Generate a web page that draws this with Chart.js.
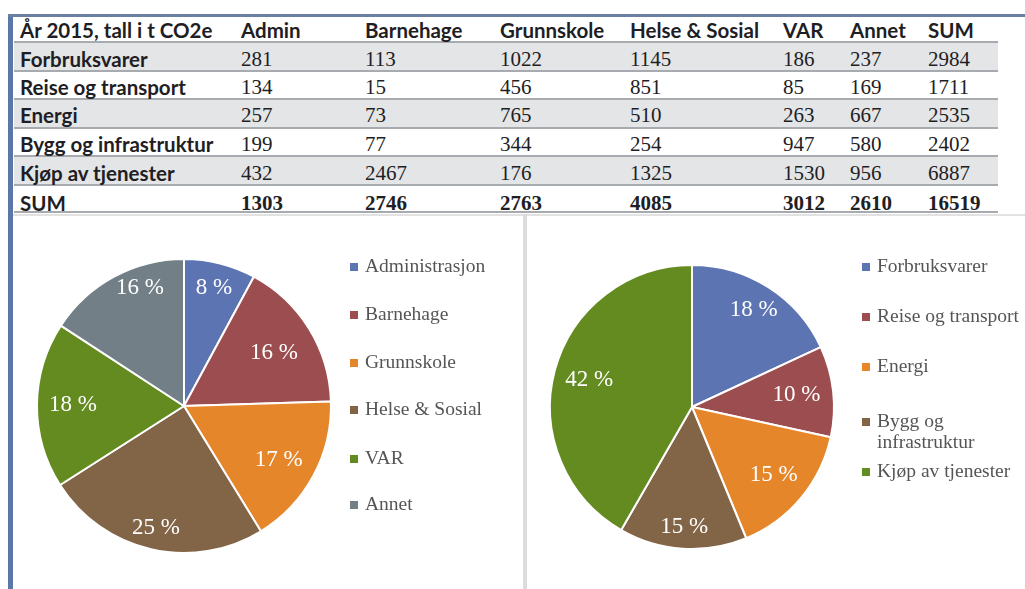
<!DOCTYPE html>
<html><head><meta charset="utf-8">
<script src="https://cdn.jsdelivr.net/npm/chart.js@4.4.0/dist/chart.umd.min.js"></script>
<style>
html,body{margin:0;padding:0;background:#fff;width:1025px;height:589px;overflow:hidden;position:relative;}
#leftBorder{position:absolute;left:8px;top:14px;width:5px;height:575px;background:#5b77a6;}
#topBorder{position:absolute;left:8px;top:14px;width:1017px;height:3px;background:#6b7fa0;}
#midLine{position:absolute;left:523px;top:214px;width:4px;height:375px;background:#dcdcdc;}
#hLine{position:absolute;left:13px;top:214px;width:1012px;height:2px;background:#e2e2e2;}
#tbl{position:absolute;left:14px;top:17px;width:984px;}
.r{position:absolute;left:0;width:984px;border-bottom:2px solid #a7abaf;box-sizing:border-box;}
.r.gray{background:#e4e5e7;}
.c{position:absolute;white-space:nowrap;color:#1e1e24;}
.lab{font-family:Lato,"Open Sans",sans-serif;font-weight:bold;font-size:20.5px;}
.num{font-family:"Liberation Serif",serif;font-size:21px;}
.sum .num{font-weight:bold;}
canvas{position:absolute;}
#c1{left:14px;top:216px;}
#c2{left:528px;top:216px;}
</style></head>
<body>
<div id="leftBorder"></div><div id="topBorder"></div>
<div id="hLine"></div><div id="midLine"></div>
<div id="tbl"></div>
<canvas id="c1" width="509" height="373"></canvas>
<canvas id="c2" width="497" height="373"></canvas>
<script>
// ---- Data ----
const tableTitle = "År 2015, tall i t CO2e";
const columns = ["Admin", "Barnehage", "Grunnskole", "Helse & Sosial", "VAR", "Annet", "SUM"];
const rowLabels = ["Forbruksvarer", "Reise og transport", "Energi", "Bygg og infrastruktur", "Kjøp av tjenester", "SUM"];
const forbruksvarer = [281, 113, 1022, 1145, 186, 237, 2984];
const reiseTransport = [134, 15, 456, 851, 85, 169, 1711];
const energi = [257, 73, 765, 510, 263, 667, 2535];
const byggInfra = [199, 77, 344, 254, 947, 580, 2402];
const kjopTjenester = [432, 2467, 176, 1325, 1530, 956, 6887];
const sumRow = [1303, 2746, 2763, 4085, 3012, 2610, 16519];

const sectorLabels = ["Administrasjon", "Barnehage", "Grunnskole", "Helse & Sosial", "VAR", "Annet"];
const sectorValues = [1303, 2746, 2763, 4085, 3012, 2610];
const sectorPctLabels = ["8 %", "16 %", "17 %", "25 %", "18 %", "16 %"];

const categoryLabels = ["Forbruksvarer", "Reise og transport", "Energi", ["Bygg og", "infrastruktur"], "Kjøp av tjenester"];
const categoryValues = [2984, 1711, 2535, 2402, 6887];
const categoryPctLabels = ["18 %", "10 %", "15 %", "15 %", "42 %"];

// ---- Table (layout) ----
const colX = [6, 227, 351, 486, 616, 769, 836, 914];
const rowTops = [0, 26, 55, 83, 112, 140, 169];
const rowBottoms = [26, 55, 83, 112, 140, 169, 196];
const textShift = [0, 1, 1, 0, 1, 1, 3];
const tbl = document.getElementById('tbl');
let h = '';
function rowHtml(i, cls, cells) {
  const top = rowTops[i], hgt = rowBottoms[i] - rowTops[i];
  let s = '<div class="r ' + cls + '" style="top:' + top + 'px;height:' + hgt + 'px">';
  cells.forEach((c, j) => {
    s += '<div class="c ' + c.k + '" style="top:' + textShift[i] + 'px;left:' + colX[j] + 'px;line-height:' + (hgt + 1) + 'px">' + c.t + '</div>';
  });
  return s + '</div>';
}
h += rowHtml(0, '', [{ t: tableTitle, k: 'lab' }].concat(columns.map(c => ({ t: c, k: 'lab' }))));
const rows = [forbruksvarer, reiseTransport, energi, byggInfra, kjopTjenester, sumRow];
rows.forEach((r, i) => {
  const cls = (i % 2 === 0 ? 'gray' : '') + (i === 5 ? ' sum' : '');
  h += rowHtml(i + 1, cls, [{ t: rowLabels[i], k: 'lab' }].concat(r.map(v => ({ t: String(v), k: 'num' }))));
});
tbl.innerHTML = h;

// ---- Charts ----
const palette1 = ['#5d74b3', '#9c4d4f', '#e5862a', '#826447', '#638b20', '#737f86'];
const palette2 = ['#5d74b3', '#9c4d4f', '#e5862a', '#826447', '#638b20'];

const pctPlugin = {
  id: 'pctLabels',
  afterDatasetsDraw(chart, args, opts) {
    const ctx = chart.ctx;
    const meta = chart.getDatasetMeta(0);
    ctx.save();
    ctx.fillStyle = '#ffffff';
    ctx.font = '23px "Liberation Serif", serif';
    ctx.textAlign = 'center';
    ctx.textBaseline = 'middle';
    meta.data.forEach((arc, i) => {
      const p = arc.getProps(['startAngle', 'endAngle', 'outerRadius', 'x', 'y'], true);
      const mid = (p.startAngle + p.endAngle) / 2 + (opts.angleShift ? opts.angleShift[i] : 0);
      const r = p.outerRadius * opts.frac[i];
      ctx.fillText(opts.texts[i], p.x + Math.cos(mid) * r, p.y + Math.sin(mid) * r);
    });
    ctx.restore();
  }
};
const legendPlugin = {
  id: 'sideLegend',
  afterDraw(chart, args, opts) {
    const ctx = chart.ctx;
    const labels = chart.data.labels;
    const colors = chart.data.datasets[0].backgroundColor;
    ctx.save();
    ctx.font = '19.5px "Liberation Serif", serif';
    ctx.textBaseline = 'middle';
    ctx.textAlign = 'left';
    labels.forEach((lab, i) => {
      const y = opts.ys[i];
      ctx.fillStyle = colors[i];
      ctx.fillRect(opts.x, y - 4, 8, 8);
      ctx.fillStyle = '#555555';
      const lines = Array.isArray(lab) ? lab : [lab];
      lines.forEach((ln, j) => ctx.fillText(ln, opts.x + 15, y + j * 21));
    });
    ctx.restore();
  }
};

function makePie(id, labels, values, colors, texts, pad, frac, angleShift, legendX, legendYs) {
  return new Chart(document.getElementById(id), {
    type: 'pie',
    data: { labels: labels, datasets: [{ data: values, backgroundColor: colors, borderColor: '#ffffff', borderWidth: 2 }] },
    options: {
      responsive: false, animation: false, events: [],
      layout: { padding: pad },
      plugins: {
        legend: { display: false }, tooltip: { enabled: false },
        pctLabels: { texts: texts, frac: frac, angleShift: angleShift },
        sideLegend: { x: legendX, ys: legendYs }
      }
    },
    plugins: [pctPlugin, legendPlugin]
  });
}

makePie('c1', sectorLabels, sectorValues, palette1, sectorPctLabels,
  { left: 22, right: 191, top: 42, bottom: 35 },
  [0.83, 0.71, 0.74, 0.85, 0.755, 0.86], [0, 0.02, 0.02, 0, 0, 0.14],
  336, [51, 99, 147, 194, 243, 289]);
makePie('c2', categoryLabels, categoryValues, palette2, categoryPctLabels,
  { left: 21, right: 190, top: 48, bottom: 39 },
  [0.81, 0.74, 0.75, 0.85, 0.75], [0, 0, 0, 0, 0],
  334, [51, 101, 151, 206, 256]);
</script>
</body></html>
